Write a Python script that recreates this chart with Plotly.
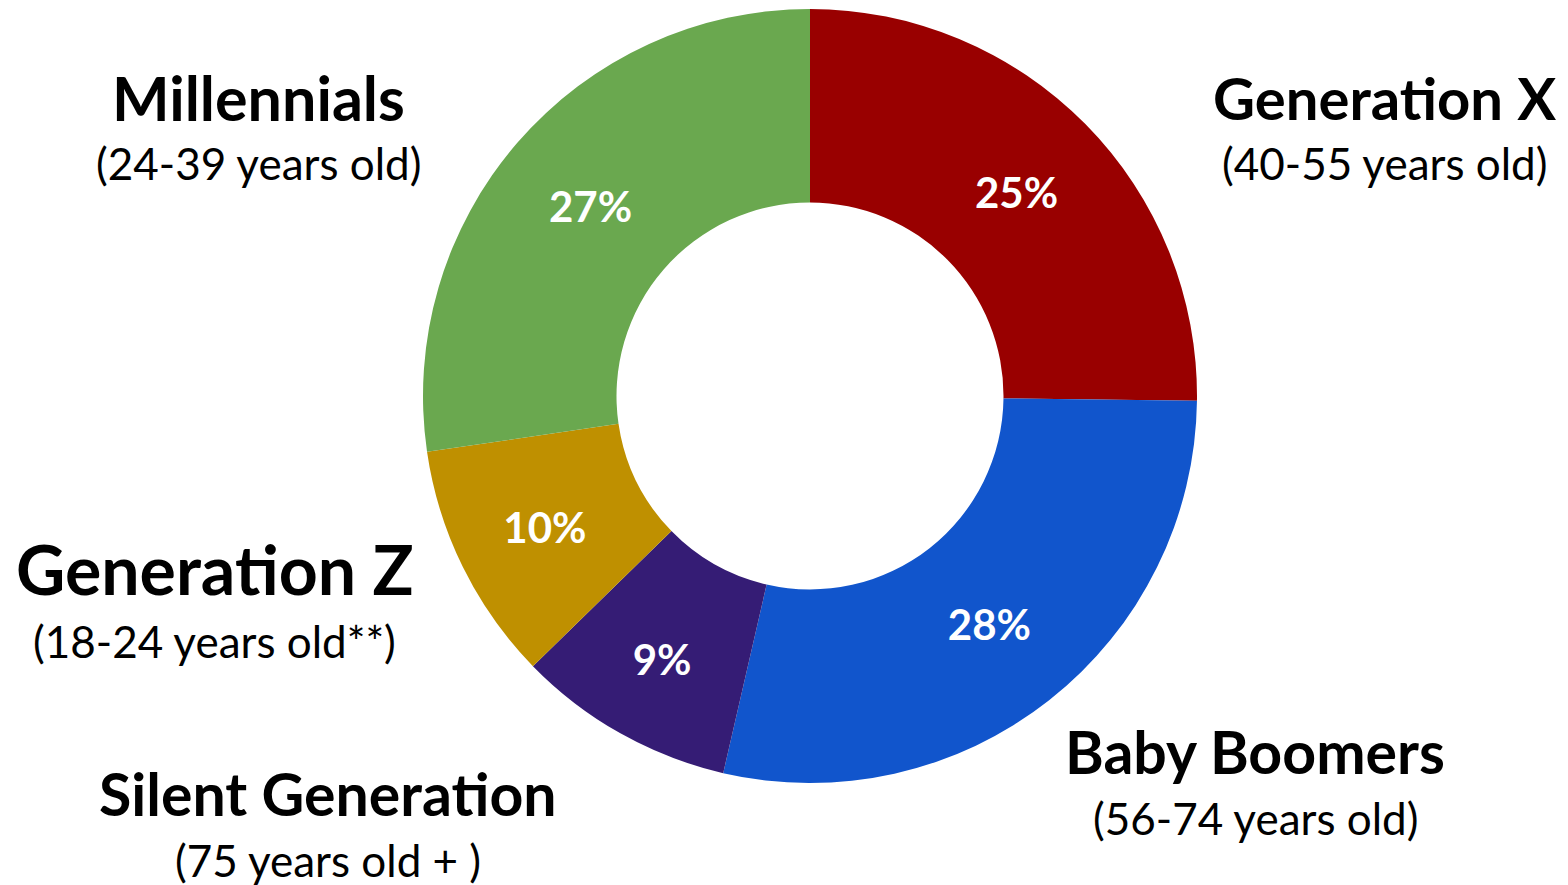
import plotly.graph_objects as go

W, H = 1568, 885

generations = ["Generation X", "Baby Boomers", "Silent Generation", "Generation Z", "Millennials"]
age_ranges = ["(40-55 years old)", "(56-74 years old)", "(75 years old + )", "(18-24 years old**)", "(24-39 years old)"]
shares = [25.2, 28.4, 9.1, 10.0, 27.3]
slice_labels = ["25%", "28%", "9%", "10%", "27%"]
colors = ["#990000", "#1155CC", "#351C75", "#BF9000", "#6AA84F"]

FONT = "Lato"

fig = go.Figure(go.Pie(
    labels=generations,
    values=shares,
    text=slice_labels,
    textinfo="text",
    texttemplate="<b>%{text}</b>",
    textposition="inside",
    insidetextorientation="horizontal",
    textfont=dict(family=FONT, size=42, color="white"),
    marker=dict(colors=colors, line=dict(width=0)),
    hole=0.5,
    sort=False,
    direction="clockwise",
    rotation=0,
    domain=dict(x=[(802 - 387) / W, (802 + 387) / W], y=[(885 - 775) / H, (885 - 1) / H]),
    showlegend=False,
    hoverinfo="label+percent",
))

# label placement: center x, title y, subtitle y, title size (pixels)
label_pos = {
    "Generation X": (1376, 90, 155, 58),
    "Baby Boomers": (1247, 743, 810, 59),
    "Silent Generation": (320, 785, 852, 59),
    "Generation Z": (207, 560, 633, 68),
    "Millennials": (250, 90, 155, 61),
}

for gen, age in zip(generations, age_ranges):
    cx, ty, sy, fs = label_pos[gen]
    fig.add_annotation(x=cx / W, y=1 - ty / H, xref="paper", yref="paper",
                       text=f"<b>{gen}</b>", showarrow=False,
                       xanchor="center", yanchor="middle",
                       font=dict(family=FONT, size=fs, color="black"))
    fig.add_annotation(x=cx / W, y=1 - sy / H, xref="paper", yref="paper",
                       text=age, showarrow=False,
                       xanchor="center", yanchor="middle",
                       font=dict(family=FONT, size=44, color="black"))

fig.update_layout(
    width=W, height=H,
    margin=dict(l=0, r=0, t=0, b=0),
    paper_bgcolor="white",
    plot_bgcolor="white",
)

fig.write_html("out.html")
